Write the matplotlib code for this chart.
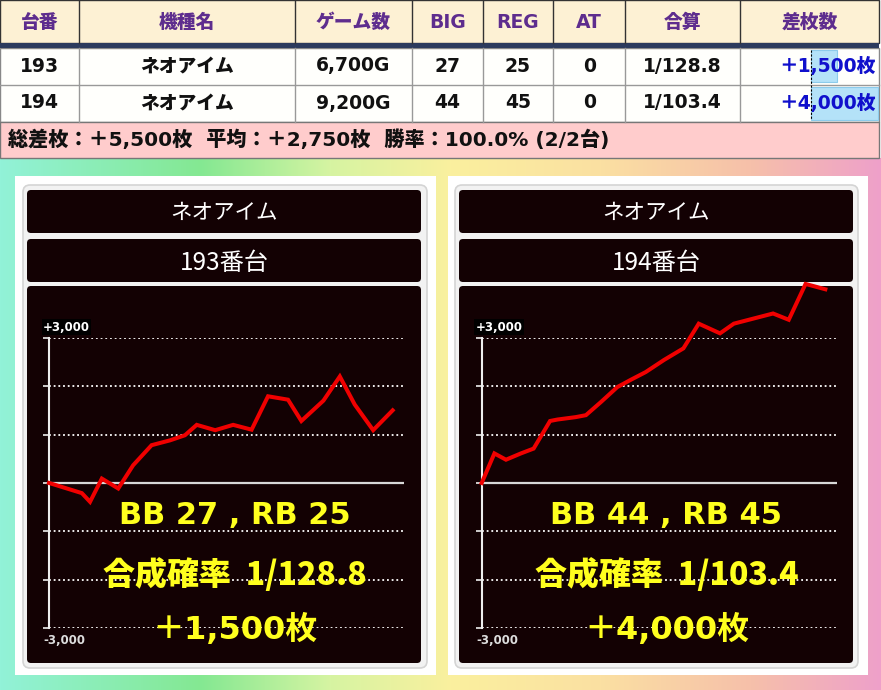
import numpy as np
import matplotlib.pyplot as plt
from matplotlib.patches import Rectangle, FancyBboxPatch

plt.rcParams['font.family'] = ['Noto Sans CJK JP', 'DejaVu Sans']
WIDE = ['DejaVu Sans', 'Noto Sans CJK JP']

# table data
headers = ['台番', '機種名', 'ゲーム数', 'BIG', 'REG', 'AT', '合算', '差枚数']
machine_nos = [193, 194]
machine_names = ['ネオアイム', 'ネオアイム']
game_counts = [6700, 9200]
big_counts = [27, 44]
reg_counts = [25, 45]
at_counts = [0, 0]
combined = ['1/128.8', '1/103.4']
diff_totals = [1500, 4000]

# slump graph data (games played, medal difference)
games_193 = [0, 640, 800, 1030, 1350, 1640, 2000, 2360, 2650, 2880, 3240,
             3590, 3950, 4270, 4660, 4920, 5350, 5670, 5960, 6320, 6700]
diff_193 = [0, -210, -390, 90, -115, 365, 780, 880, 985, 1200, 1090,
            1200, 1100, 1790, 1720, 1280, 1700, 2200, 1620, 1090, 1500]
games_194 = [0, 340, 650, 1050, 1390, 1830, 2030, 2520, 2790, 3190, 3630,
             3990, 4390, 4880, 5400, 5810, 6380, 6750, 7200, 7800, 8220,
             8670, 9200]
diff_194 = [0, 610, 480, 610, 710, 1280, 1310, 1360, 1400, 1670, 1980,
            2130, 2290, 2540, 2780, 3290, 3090, 3290, 3380, 3500, 3370,
            4110, 4000]

W, H = 881, 690
fig = plt.figure(figsize=(W / 100, H / 100), dpi=100)
bg = fig.add_axes([0, 0, 1, 1], zorder=0)
bg.set_xlim(0, W)
bg.set_ylim(H, 0)
bg.axis('off')

# rainbow background below the table
stops = [0, 200, 330, 450, 600, 750, 881]
cols = np.array([[0x92, 0xF2, 0xD8], [0x84, 0xE8, 0x92], [0xD6, 0xF4, 0xA2],
                 [0xFA, 0xF0, 0x9E], [0xFB, 0xE0, 0xA2], [0xF6, 0xC0, 0xAA],
                 [0xEE, 0xA0, 0xCA]]) / 255
xs = np.arange(W)
grad = np.stack([np.interp(xs, stops, cols[:, i]) for i in range(3)], axis=-1)
bg.imshow(grad[None, :, :], extent=(0, W, H, 158), aspect='auto', zorder=0)

# table
col_edges = [0, 79, 295, 412, 482.7, 553.3, 625, 740, 879]
centers = [(a + b) / 2 for a, b in zip(col_edges[:-1], col_edges[1:])]
bg.add_patch(Rectangle((0, 0), 879, 43, facecolor='#FDF1D4', edgecolor='#333333', lw=1, zorder=1))
bg.add_patch(Rectangle((0, 43), 879, 4.5, facecolor='#2C3B5E', edgecolor='none', zorder=2))
bg.add_patch(Rectangle((0, 47.5), 879, 74.5, facecolor='#FFFFFC', edgecolor='#888888', lw=1, zorder=1))
bg.plot([0, 879], [85, 85], color='#999999', lw=1, zorder=2)
for x in col_edges[1:-1]:
    bg.plot([x, x], [0, 43], color='#333333', lw=1, zorder=2)
    bg.plot([x, x], [47.5, 122], color='#999999', lw=1, zorder=2)
bg.add_patch(Rectangle((0, 122), 879, 36, facecolor='#FFCCCC', edgecolor='#777777', lw=1, zorder=1))

# highlight boxes on the difference column
bg.add_patch(Rectangle((811, 50), 26, 32, facecolor='#B4E2F8', edgecolor='#8CCBEB', lw=0.8, zorder=2))
bg.add_patch(Rectangle((811, 87), 67, 33, facecolor='#B4E2F8', edgecolor='#8CCBEB', lw=0.8, zorder=2))
bg.plot([811, 811], [50, 120], color='black', lw=0.8, ls=(0, (2, 1.5)), zorder=3)

for cx, h in zip(centers, headers):
    bg.text(cx, 22, h, ha='center', va='center', fontsize=13.5, weight='heavy',
            color='#5E2D8E', family=WIDE, zorder=4)

row_y = [66, 103]
for i, y in enumerate(row_y):
    vals = [str(machine_nos[i]), machine_names[i], f'{game_counts[i]:,}G', str(big_counts[i]),
            str(reg_counts[i]), str(at_counts[i]), combined[i]]
    for cx, v in zip(centers, vals):
        bg.text(cx, y, v, ha='center', va='center', fontsize=13.5, weight='heavy',
                color='#111111', family=WIDE, zorder=4)
    bg.text(876, y, f'＋{diff_totals[i]:,}枚', ha='right', va='center', fontsize=13.5,
            weight='heavy', color='#1010CC', family=WIDE, zorder=4)

total = sum(diff_totals)
avg = total / len(diff_totals)
wins = sum(1 for d in diff_totals if d > 0)
summary = (f'総差枚：＋{total:,}枚  平均：＋{avg:,.0f}枚  '
           f'勝率：{wins / len(diff_totals) * 100:.1f}% ({wins}/{len(diff_totals)}台)')
bg.text(8, 140, summary, ha='left', va='center', fontsize=14.5, weight='heavy',
        color='#111111', family=WIDE, zorder=4)

# cards
def rbox(x0, y0, x1, y1, fc, ec='none', lw=0, r=4, z=2):
    bg.add_patch(FancyBboxPatch((x0, y0), x1 - x0, y1 - y0,
                                boxstyle=f'round,pad=0,rounding_size={r}',
                                facecolor=fc, edgecolor=ec, lw=lw, zorder=z))

cards = [
    dict(card=(15, 435.5), inner=(23, 427), box=(27, 421)),
    dict(card=(448, 868), inner=(455, 858), box=(459, 853)),
]
dark = '#130103'
for k, c in enumerate(cards):
    bg.add_patch(Rectangle((c['card'][0], 176), c['card'][1] - c['card'][0], 499,
                           facecolor='white', edgecolor='none', zorder=1))
    rbox(c['inner'][0], 185, c['inner'][1], 668, '#F2F2F2', '#D4D4D4', 1.2, r=7)
    rbox(c['box'][0], 190, c['box'][1], 233, dark)
    rbox(c['box'][0], 239, c['box'][1], 282, dark)
    rbox(c['box'][0], 286, c['box'][1], 663, dark)
    cx = (c['box'][0] + c['box'][1]) / 2
    bg.text(cx, 213, machine_names[k], ha='center', va='center', fontsize=15.5, color='white', zorder=4)
    bg.text(cx, 263, f'{machine_nos[k]}番台', ha='center', va='center', fontsize=17.5,
            color='white', zorder=4)

# slump graphs
def graph(x_left, games, diffs, n_games):
    ax = fig.add_axes([x_left / W, 1 - 628.2 / H, 355 / W, (628.2 - 337.7) / H], zorder=2)
    ax.patch.set_alpha(0)
    ax.set_xlim(0, n_games * 1.033)
    ax.set_ylim(-3000, 3000)
    for v in [-3000, -2000, -1000, 1000, 2000, 3000]:
        ax.axhline(v, color='white', lw=1.3, ls=(0, (1, 1.6)), zorder=1)
    ax.axhline(0, color='#D8D8D8', lw=1.6, zorder=1)
    ax.plot(games, diffs, color='#F00000', lw=2.9, clip_on=False, zorder=3,
            solid_joinstyle='miter')
    for s in ['top', 'right', 'bottom']:
        ax.spines[s].set_visible(False)
    ax.spines['left'].set_color('#EEEEEE')
    ax.spines['left'].set_linewidth(1.5)
    ax.set_xticks([])
    ax.set_yticks([-3000, -2000, -1000, 0, 1000, 2000, 3000])
    ax.tick_params(axis='y', length=4.3, width=1.2, color='#EEEEEE', labelleft=False)
    ax.annotate('+3,000', xy=(0, 3000), xycoords=('axes fraction', 'data'),
                xytext=(-4.5, 3), textcoords='offset points', ha='left', va='bottom',
                fontsize=8.5, weight='bold', color='white', family='DejaVu Sans',
                bbox=dict(boxstyle='square,pad=0.1', fc='black', ec='none'))
    ax.annotate('-3,000', xy=(0, -3000), xycoords=('axes fraction', 'data'),
                xytext=(-4, -4), textcoords='offset points', ha='left', va='top',
                fontsize=8.5, weight='bold', color='#DDDDDD', family='DejaVu Sans')
    return ax

graph(49, games_193, diff_193, game_counts[0])
graph(481.7, games_194, diff_194, game_counts[1])

# yellow captions on top
top = fig.add_axes([0, 0, 1, 1], zorder=5)
top.set_xlim(0, W)
top.set_ylim(H, 0)
top.axis('off')
cap_x = [235, 666.5]
yellow = '#FFFF1E'
for k in range(2):
    top.text(cap_x[k], 516, f'BB {big_counts[k]} , RB {reg_counts[k]}', ha='center', va='center',
             fontsize=22, weight='bold', color=yellow, family=WIDE)
    top.text(cap_x[k], 575, f'合成確率  {combined[k]}', ha='center', va='center',
             fontsize=23, weight='heavy', color=yellow, family=['Noto Sans CJK JP'])
    top.text(cap_x[k], 630, f'＋{diff_totals[k]:,}枚', ha='center', va='center',
             fontsize=23, weight='bold', color=yellow, family=WIDE)

fig.savefig('out.png', dpi=100)
